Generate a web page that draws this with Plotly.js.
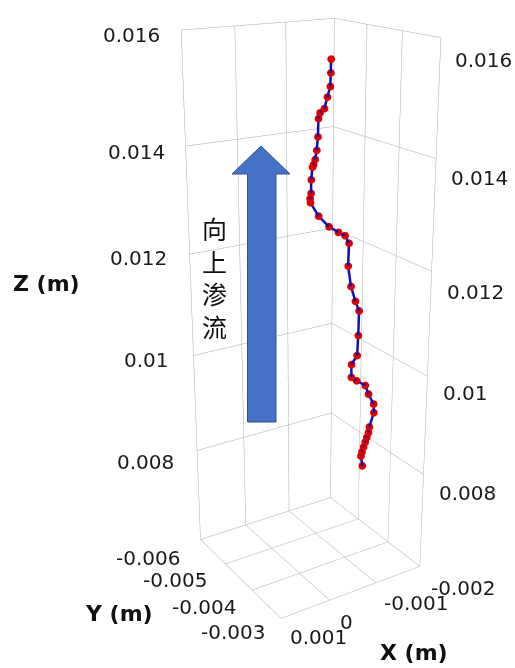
<!DOCTYPE html>
<html>
<head>
<meta charset="utf-8">
<script src="https://cdn.plot.ly/plotly-3.0.1.min.js"></script>
<style>
html,body{margin:0;padding:0;width:515px;height:668px;overflow:hidden;background:#fff;}
#plot{position:absolute;left:0px;top:-168px;width:616px;height:966px;}
</style>
</head>
<body>
<div id="plot"></div>
<script>
// ---- data (metres) ----
const xVals = [-0.000812,-0.000809,-0.000804,-0.000765,-0.000725,-0.000665,-0.000644,-0.000637,-0.000621,-0.000599,-0.000576,-0.000562,-0.000545,-0.000543,-0.000529,-0.000534,-0.00065,-0.000798,-0.000933,-0.001028,-0.001087,-0.001079,-0.001123,-0.00119,-0.001247,-0.001241,-0.001228,-0.001148,-0.001147,-0.001227,-0.001357,-0.001409,-0.001488,-0.001495,-0.001432,-0.00142,-0.001395,-0.001372,-0.00135,-0.001326,-0.001312,-0.001336];
const yVals = [-0.004299,-0.004301,-0.004305,-0.00433,-0.004355,-0.004394,-0.004407,-0.004412,-0.004422,-0.004436,-0.004451,-0.00446,-0.004471,-0.004472,-0.004481,-0.004478,-0.004404,-0.004308,-0.004222,-0.004161,-0.004123,-0.004128,-0.004099,-0.004056,-0.00402,-0.004024,-0.004032,-0.004084,-0.004084,-0.004033,-0.003949,-0.003916,-0.003865,-0.00386,-0.003901,-0.003909,-0.003924,-0.003939,-0.003954,-0.003969,-0.003978,-0.003963];
const zVals = [0.015585,0.015356,0.015128,0.014949,0.014755,0.014682,0.014584,0.014269,0.014034,0.013873,0.013782,0.01374,0.013515,0.013273,0.013176,0.013104,0.01286,0.012667,0.012564,0.012504,0.012364,0.011937,0.011552,0.011269,0.011083,0.010602,0.010206,0.010025,0.009769,0.0097,0.009606,0.009429,0.009224,0.009047,0.008749,0.008633,0.008531,0.008429,0.008327,0.008224,0.008137,0.007927];

const xTickVals = [0.001,0,-0.001,-0.002];
const xTickText = ['0.001','0','-0.001','-0.002'];
const yTickVals = [-0.006,-0.005,-0.004,-0.003];
const yTickText = ['-0.006','-0.005','-0.004','-0.003'];
const zTickVals = [0.016,0.014,0.012,0.01,0.008,0.006];
const zTickText = ['0.016','0.014','0.012','0.01','0.008',''];

const xTitle = 'X (m)', yTitle = 'Y (m)', zTitle = 'Z (m)';
const flowLabel = '向上渗流';

// ---- layout helpers (window pixel -> paper of the enlarged plot div) ----
const DIV_W = 616, DIV_H = 966, DIV_TOP = -168;
const px = v => v / DIV_W;
const py = v => 1 - (v - DIV_TOP) / DIV_H;

const tickFont = {family:'DejaVu Sans, sans-serif', size:20, color:'#1a1a1a'};
const titleFont = {family:'DejaVu Sans, sans-serif', size:22, color:'#111'};

const axisCommon = {
  showbackground:false, gridcolor:'#a6a6a6', gridwidth:1,
  zeroline:false, showline:false, ticks:'', showspikes:false,
  showticklabels:false, tickmode:'array', title:{text:''}
};

const trace = {
  type:'scatter3d', mode:'lines+markers',
  x:xVals, y:yVals, z:zVals,
  line:{color:'#1010b0', width:5},
  marker:{color:'#dd0000', size:4.5, line:{width:0}},
  hoverinfo:'skip', showlegend:false
};

// tick-label placement (window px)
const zLeftPos  = [[162,34.7],[166.7,151.7],[169,258.3],[171,360],[176.3,461.7]];
const zRightPos = [[453,60],[449,178],[444.7,292],[441,393],[436.7,493]];
const yPos = [[147.5,558.3],[174.5,580],[203.8,606.7],[232.5,631.7]];
const xPos = [[318.3,637],[346.3,621.7],[416.3,603.3],[463.3,588.3]];

const lab = (t,p,anchor) => ({xref:'paper', yref:'paper', x:px(p[0]), y:py(p[1]), text:t,
  showarrow:false, xanchor:anchor, yanchor:'middle', font:tickFont});

const tickAnn = [];
zTickText.forEach((t,i)=>{ if(t!==''){ tickAnn.push(lab(t,zLeftPos[i],'right')); tickAnn.push(lab(t,zRightPos[i],'left')); } });
yTickText.forEach((t,i)=>tickAnn.push(lab(t,yPos[i],'center')));
xTickText.forEach((t,i)=>tickAnn.push(lab(t,xPos[i],'center')));

const arrowPts = [[261,146],[290,174],[276,174],[276,422],[247.5,422],[247.5,174],[232,174]];
const arrowPath = 'M ' + arrowPts.map(p=>px(p[0]).toFixed(5)+','+py(p[1]).toFixed(5)).join(' L ') + ' Z';

const layout = {
  width:DIV_W, height:DIV_H,
  margin:{l:0,r:0,t:0,b:0},
  paper_bgcolor:'#fff',
  showlegend:false,
  hovermode:false,
  scene:{
    domain:{x:[0,1],y:[0,1]},
    aspectmode:'manual', aspectratio:{x:1,y:1,z:3.2},
    camera:{eye:{x:3.388,y:5.341,z:2.408}, center:{x:0,y:0,z:0}, up:{x:0,y:0,z:1}, projection:{type:'perspective'}},
    xaxis:Object.assign({}, axisCommon, {range:[-0.002,0.001], tickvals:xTickVals}),
    yaxis:Object.assign({}, axisCommon, {range:[-0.006,-0.003], tickvals:yTickVals}),
    zaxis:Object.assign({}, axisCommon, {range:[0.006,0.016], tickvals:zTickVals})
  },
  shapes:[{type:'path', xref:'paper', yref:'paper', path:arrowPath,
           fillcolor:'#4472C4', line:{color:'#2F528F', width:1}, layer:'above'}],
  annotations:[
    {xref:'paper', yref:'paper', x:px(214), y:py(277), text:flowLabel.split('').join('<br>'),
     showarrow:false, xanchor:'center', yanchor:'middle',
     font:{family:'Noto Sans CJK SC, sans-serif', size:25, color:'#111'}},
    {xref:'paper', yref:'paper', x:px(46), y:py(284), text:'<b>'+zTitle+'</b>', showarrow:false,
     xanchor:'center', yanchor:'middle', font:titleFont},
    {xref:'paper', yref:'paper', x:px(155), y:py(613), text:'<b>'+yTitle+'</b>', showarrow:false,
     xanchor:'right', yanchor:'middle', font:titleFont},
    {xref:'paper', yref:'paper', x:px(414), y:py(652.5), text:'<b>'+xTitle+'</b>', showarrow:false,
     xanchor:'center', yanchor:'middle', font:titleFont}
  ].concat(tickAnn)
};

Plotly.newPlot('plot', [trace], layout, {displayModeBar:false});
</script>
</body>
</html>
